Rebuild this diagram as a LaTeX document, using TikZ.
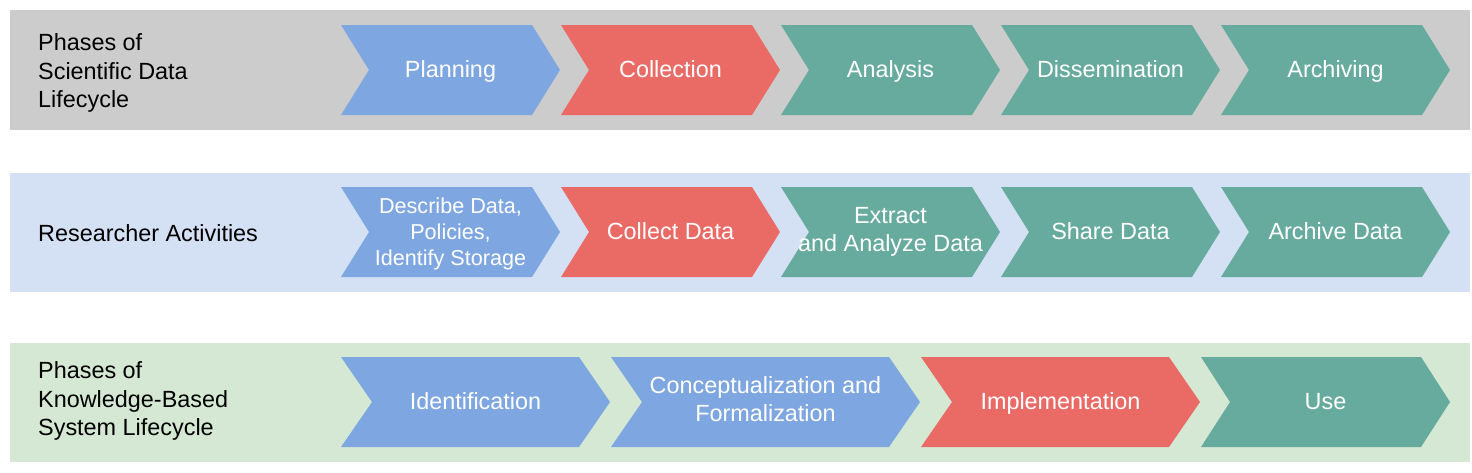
\documentclass[tikz,border=0pt]{standalone}
\usepackage{fontspec}
\setmainfont{Liberation Sans}
\definecolor{bandgray}{HTML}{CCCCCC}
\definecolor{bandblue}{HTML}{D4E1F5}
\definecolor{bandgreen}{HTML}{D5E8D4}
\definecolor{cblue}{HTML}{7EA6E0}
\definecolor{cred}{HTML}{EA6B66}
\definecolor{cteal}{HTML}{67AB9F}
\tikzset{
  chevtext/.style={text=white, align=center, font=\fontsize{23.4}{28.5}\selectfont, inner sep=0pt,
    execute at begin node=\strut, execute at end node=\strut},
  smalltext/.style={chevtext, font=\fontsize{21.6}{26}\selectfont, yshift=-2pt},
  rowlabel/.style={text=black, align=left, anchor=west, font=\fontsize{23.4}{28.5}\selectfont, inner sep=0pt,
    execute at begin node=\strut, execute at end node=\strut},
}
% #1 name, #2 x0, #3 x1, #4 ytop, #5 ybot, #6 depth, #7 colour, #8 style, #9 text
\newcommand\chevbox[9]{%
  \fill[#7] (#2,#4) -- (#3-#6,#4) -- (#3,{(#4+#5)/2}) -- (#3-#6,#5) -- (#2,#5) -- (#2+#6,{(#4+#5)/2}) -- cycle;
  \node[#8] (#1) at ({(#2+#3)/2},{(#4+#5)/2+1.5}) {#9};
}
\begin{document}
\begin{tikzpicture}[x=1pt,y=-1pt]
\useasboundingbox (0,0) rectangle (1472,472);
% bands
\fill[bandgray] (10,10) rectangle (1470,130);
\fill[bandblue] (10,173) rectangle (1470,292);
\fill[bandgreen] (10,343) rectangle (1470,462);
% row labels
\node[rowlabel] (l1) at (38,75) {Phases of\\Scientific Data\\Lifecycle};
\node[rowlabel] (l2) at (38,236) {Researcher Activities};
\node[rowlabel] (l3) at (38,403) {Phases of\\Knowledge-Based\\System Lifecycle};
% row 1
\chevbox{p1}{341}{560}{25}{115}{28}{cblue}{chevtext}{Planning}
\chevbox{p2}{561}{780}{25}{115}{28}{cred}{chevtext}{Collection}
\chevbox{p3}{781}{1000}{25}{115}{28}{cteal}{chevtext}{Analysis}
\chevbox{p4}{1001}{1220}{25}{115}{28}{cteal}{chevtext}{Dissemination}
\chevbox{p5}{1221}{1450}{25}{115}{28}{cteal}{chevtext}{Archiving}
% row 2
\chevbox{a1}{341}{560}{187}{277}{28}{cblue}{smalltext}{Describe Data,\\Policies,\\Identify Storage}
\chevbox{a2}{561}{780}{187}{277}{28}{cred}{chevtext}{Collect Data}
\chevbox{a3}{781}{1000}{187}{277}{28}{cteal}{chevtext}{Extract\\and Analyze Data}
\chevbox{a4}{1001}{1220}{187}{277}{28}{cteal}{chevtext}{Share Data}
\chevbox{a5}{1221}{1450}{187}{277}{28}{cteal}{chevtext}{Archive Data}
% row 3
\chevbox{k1}{341}{610}{357}{447}{31}{cblue}{chevtext}{Identification}
\chevbox{k2}{611}{920}{357}{447}{31}{cblue}{chevtext}{Conceptualization and\\Formalization}
\chevbox{k3}{921}{1200}{357}{447}{31}{cred}{chevtext}{Implementation}
\chevbox{k4}{1201}{1450}{357}{447}{29}{cteal}{chevtext}{Use}
\end{tikzpicture}
\end{document}
